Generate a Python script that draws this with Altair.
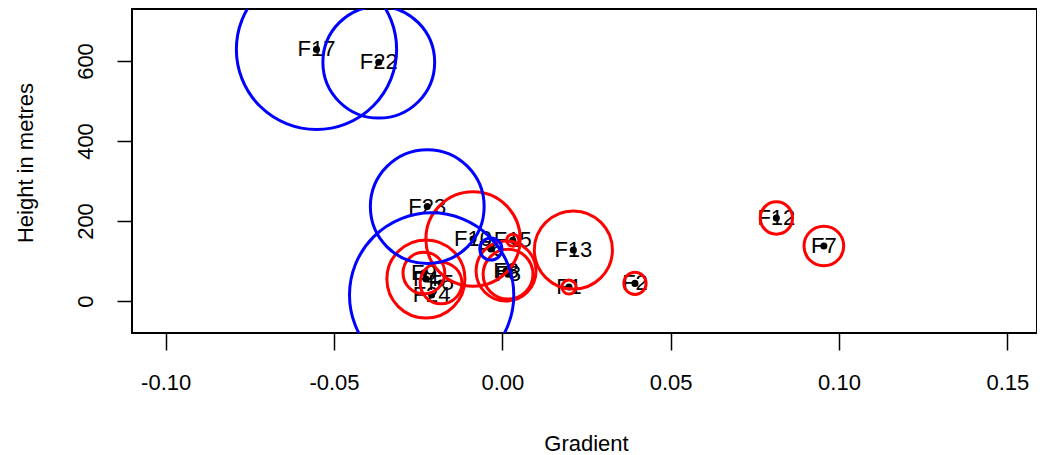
import altair as alt
import pandas as pd

# Site labels, gradient (x), height in metres (y), circle radius (in gradient units), group
names = ["F10", "F15", "F3", "F8", "F9", "F4", "F5", "F13", "F1", "F2", "F12", "F7",
         "F17", "F22", "F23", "F24", "F6"]
gradient = [-0.0087, 0.0031, 0.0011, 0.0017, -0.0233, -0.0227, -0.0182, 0.0211, 0.0198,
            0.0394, 0.0814, 0.0955,
            -0.0552, -0.0367, -0.0223, -0.0210, -0.0034]
height = [155, 152, 75, 67, 70, 55, 45, 127.5, 35, 44, 207.5, 137.5,
          629, 597, 236, 15, 130]
radius = [0.0140, 0.0018, 0.0089, 0.0074, 0.0062, 0.0116, 0.0062, 0.0116, 0.0021,
          0.0033, 0.0048, 0.0059,
          0.0238, 0.0166, 0.0169, 0.0244, 0.0033]
group = ["positive"] * 12 + ["negative"] * 5

x_ticks = [-0.10, -0.05, 0.00, 0.05, 0.10, 0.15]
y_ticks = [0, 200, 400, 600]

df = pd.DataFrame({"name": names, "gradient": gradient, "height": height,
                   "radius": radius, "group": group, "order": list(range(len(names)))})

PX_PER_UNIT = 909 / 0.27
W, H = 905, 324
XDOM = [-0.11, -0.11 + W / PX_PER_UNIT]
YDOM = [-80, 730]
RMAX = 0.03
FONT = "Liberation Sans"

x_enc = alt.X("gradient:Q", scale=alt.Scale(domain=XDOM, nice=False, zero=False),
              axis=alt.Axis(values=x_ticks,
                            labelExpr="(datum.value < 0 ? '-' : '') + format(abs(datum.value), '.2f')",
                            tickSize=17, tickWidth=1.5, tickColor="black",
                            labelPadding=22.5, labelFontSize=22, labelFont=FONT,
                            labelColor="black", labelFlush=False, labelOverlap=False,
                            domain=False, grid=False,
                            title="Gradient", titleFontSize=22, titleFont=FONT,
                            titleFontWeight="normal", titleColor="black",
                            titleX=454, titleY=117, titleAlign="center",
                            titleBaseline="alphabetic"))
y_enc = alt.Y("height:Q", scale=alt.Scale(domain=YDOM, nice=False, zero=False),
              axis=alt.Axis(values=y_ticks, format="d",
                            tickSize=15, tickWidth=1.5, tickColor="black",
                            labelPadding=20, labelFontSize=22, labelFont=FONT,
                            labelColor="black", labelAngle=270, labelAlign="center",
                            labelBaseline="bottom", labelFlush=False, labelOverlap=False,
                            domain=False, grid=False,
                            title="Height in metres", titleFontSize=22, titleFont=FONT,
                            titleFontWeight="normal", titleColor="black",
                            titleAngle=270, titleX=-100, titleY=153.5,
                            titleAlign="center", titleBaseline="alphabetic"))

base = alt.Chart(df).encode(x=x_enc, y=y_enc)

dots = base.mark_point(filled=True, shape="circle", size=50, color="black", opacity=1)

labels = base.mark_text(fontSize=22, font=FONT, color="black",
                        align="center", baseline="middle").encode(text="name:N")

circles = base.mark_point(shape="circle", filled=False, strokeWidth=3,
                          opacity=1, clip=True).encode(
    stroke=alt.Stroke("group:N",
                      scale=alt.Scale(domain=["positive", "negative"],
                                      range=["#ff0000", "#0000ff"]),
                      legend=None),
    size=alt.Size("radius:Q",
                  scale=alt.Scale(type="pow", exponent=2, domain=[0, RMAX],
                                  range=[0, (2 * RMAX * PX_PER_UNIT) ** 2]),
                  legend=None),
    order=alt.Order("order:Q"),
)

chart = alt.layer(dots, labels, circles).properties(
    width=W, height=H,
    autosize=alt.AutoSizeParams(type="none"),
    padding={"left": 124, "top": 1, "right": 0, "bottom": 122},
    background="white",
).configure_view(stroke="black", strokeWidth=2)

chart.save("out.html", embed_options={"renderer": "svg", "actions": False})
